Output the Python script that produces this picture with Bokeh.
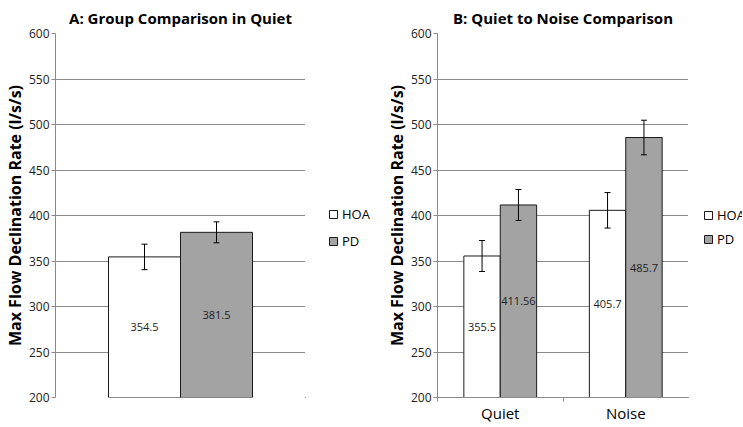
from bokeh.plotting import figure
from bokeh.layouts import row
from bokeh.models import (ColumnDataSource, Whisker, TeeHead, FixedTicker, Legend,
                          LegendItem, Range1d, LabelSet)
from bokeh.core.properties import value
from bokeh.embed import file_html
from bokeh.resources import INLINE

# ---------------- data ----------------
# Panel A: group comparison in quiet
a_groups = ["HOA", "PD"]
a_values = [354.5, 381.5]
a_errors = [14.0, 11.5]
a_labels = ["354.5", "381.5"]

# Panel B: quiet to noise comparison
b_conditions = ["Quiet", "Noise"]
b_hoa = [355.5, 405.7]
b_pd = [411.56, 485.7]
b_hoa_err = [17.0, 19.5]
b_pd_err = [17.0, 19.0]
b_hoa_labels = ["355.5", "405.7"]
b_pd_labels = ["411.56", "485.7"]

y_ticks = [200, 250, 300, 350, 400, 450, 500, 550, 600]
Y_MIN, Y_MAX = 200, 600

FONT = "Open Sans"
GRID = "#8a8a8a"
FILL = {"HOA": "#ffffff", "PD": "#a3a3a3"}
Y_TITLE = "Max Flow Declination Rate (l/s/s)"
H = 425
BW_A = 0.288
BW_B = 0.29


def style(p, title):
    p.title.text = title
    p.title.align = "center"
    p.title.text_font = FONT
    p.title.text_font_style = "bold"
    p.title.text_font_size = "15px"
    p.title.text_color = "#000000"
    p.title.standoff = 11
    p.outline_line_color = None
    p.background_fill_color = "white"
    p.border_fill_color = "white"
    p.xgrid.grid_line_color = None
    p.ygrid.ticker = FixedTicker(ticks=y_ticks)
    p.ygrid.grid_line_color = GRID
    p.ygrid.grid_line_width = 1
    ax = p.yaxis[0]
    ax.ticker = FixedTicker(ticks=y_ticks)
    ax.axis_line_color = GRID
    ax.major_tick_line_color = GRID
    ax.major_tick_out = 4
    ax.major_tick_in = 0
    ax.minor_tick_out = 0
    ax.minor_tick_in = 0
    ax.major_label_text_font = FONT
    ax.major_label_text_font_size = "12px"
    ax.major_label_text_color = "#222222"
    ax.major_label_standoff = 2
    ax.axis_label = Y_TITLE
    ax.axis_label_text_font = FONT
    ax.axis_label_text_font_style = "bold"
    ax.axis_label_text_font_size = "16px"
    ax.axis_label_text_color = "#000000"
    ax.axis_label_standoff = 0


def legend_panel(width, loc, spacing, xs, tops):
    """A narrow plot that only holds the legend, beside a chart panel.
    Its bar proxies carry the panel's values but lie outside this plot's view."""
    q = figure(width=width, height=H, x_range=Range1d(1, 2),
               y_range=Range1d(Y_MAX, 2 * Y_MAX),
               x_axis_location=None, y_axis_location=None,
               min_border_left=0, min_border_right=0, min_border_top=0,
               min_border_bottom=0, output_backend="svg", toolbar_location=None)
    q.outline_line_color = None
    q.grid.grid_line_color = None
    q.background_fill_color = "white"
    q.border_fill_color = "white"
    rs = [q.vbar(x=[x], top=[t], bottom=Y_MIN, width=BW_A,
                 fill_color=FILL[g], line_color="#1a1a1a")
          for g, x, t in zip(a_groups, xs, tops)]
    items = [LegendItem(label=g, renderers=[r]) for g, r in zip(a_groups, rs)]
    leg = Legend(items=items, location=loc, orientation="vertical",
                 border_line_color=None, background_fill_alpha=0,
                 padding=0, margin=0, spacing=spacing,
                 glyph_width=10, glyph_height=10, label_standoff=4,
                 label_height=12, label_width=10,
                 label_text_font=FONT, label_text_font_size="13px",
                 label_text_color="#000000")
    q.add_layout(leg)
    return q


# ---------------- panel A ----------------
pa = figure(width=305, height=H,
            x_range=Range1d(0, 1), y_range=Range1d(Y_MIN, Y_MAX),
            x_axis_location=None,
            min_border_left=45, min_border_right=0, min_border_top=0,
            min_border_bottom=0,
            output_backend="svg", toolbar_location=None)
style(pa, "A: Group Comparison in Quiet")

a_x = [0.5 + (i - (len(a_groups) - 1) / 2) * BW_A for i in range(len(a_groups))]
for i, g in enumerate(a_groups):
    pa.vbar(x=[a_x[i]], width=BW_A, top=[a_values[i]], bottom=Y_MIN,
            fill_color=FILL[g], line_color="#1a1a1a", line_width=1)

a_src = ColumnDataSource(dict(
    x=a_x,
    upper=[v + e for v, e in zip(a_values, a_errors)],
    lower=[v - e for v, e in zip(a_values, a_errors)],
    ymid=[(v + Y_MIN) / 2 for v in a_values],
    text=a_labels))
pa.add_layout(Whisker(base="x", upper="upper", lower="lower", source=a_src,
                      line_color="black", line_width=1,
                      upper_head=TeeHead(size=6, line_color="black", line_width=1),
                      lower_head=TeeHead(size=6, line_color="black", line_width=1),
                      level="overlay"))
pa.add_layout(LabelSet(x="x", y="ymid", text="text", source=a_src,
                       text_align="center", text_baseline="middle",
                       text_font=value(FONT), text_font_size=value("11px"),
                       text_color="#222222"))
leg_a = legend_panel(65, (23, 147), 9, a_x, a_values)

# ---------------- panel B ----------------
pb = figure(width=318, height=H,
            x_range=Range1d(0, len(b_conditions)), y_range=Range1d(Y_MIN, Y_MAX),
            min_border_left=67, min_border_right=0, min_border_top=0,
            min_border_bottom=0,
            output_backend="svg", toolbar_location=None)
style(pb, "B: Quiet to Noise Comparison")

centers = [i + 0.5 for i in range(len(b_conditions))]
xax = pb.xaxis[0]
xax.ticker = FixedTicker(ticks=centers, minor_ticks=list(range(len(b_conditions) + 1)))
xax.major_label_overrides = {c: n for c, n in zip(centers, b_conditions)}
xax.axis_line_color = GRID
xax.major_tick_out = 0
xax.major_tick_in = 0
xax.minor_tick_out = 4
xax.minor_tick_in = 0
xax.minor_tick_line_color = GRID
xax.major_label_text_font = FONT
xax.major_label_text_font_size = "15px"
xax.major_label_text_color = "#000000"
xax.major_label_standoff = 1

series = {"HOA": (b_hoa, b_hoa_err, b_hoa_labels), "PD": (b_pd, b_pd_err, b_pd_labels)}
for i, g in enumerate(a_groups):
    vals, errs, labs = series[g]
    xs = [c + (i - (len(a_groups) - 1) / 2) * BW_B for c in centers]
    pb.vbar(x=xs, width=BW_B, top=vals, bottom=Y_MIN,
            fill_color=FILL[g], line_color="#1a1a1a", line_width=1)
    src = ColumnDataSource(dict(
        x=xs,
        upper=[v + e for v, e in zip(vals, errs)],
        lower=[v - e for v, e in zip(vals, errs)],
        ymid=[(v + Y_MIN) / 2 for v in vals],
        text=labs))
    pb.add_layout(Whisker(base="x", upper="upper", lower="lower", source=src,
                          line_color="black", line_width=1,
                          upper_head=TeeHead(size=6, line_color="black", line_width=1),
                          lower_head=TeeHead(size=6, line_color="black", line_width=1),
                          level="overlay"))
    pb.add_layout(LabelSet(x="x", y="ymid", text="text", source=src,
                           text_align="center", text_baseline="middle",
                           text_font=value(FONT), text_font_size=value("11px"),
                           text_color="#222222"))
leg_b = legend_panel(54, (15, 149), 6, a_x, [b_hoa[0], b_pd[0]])

layout = row(pa, leg_a, pb, leg_b)
open("out.html", "w").write(file_html(layout, INLINE))
